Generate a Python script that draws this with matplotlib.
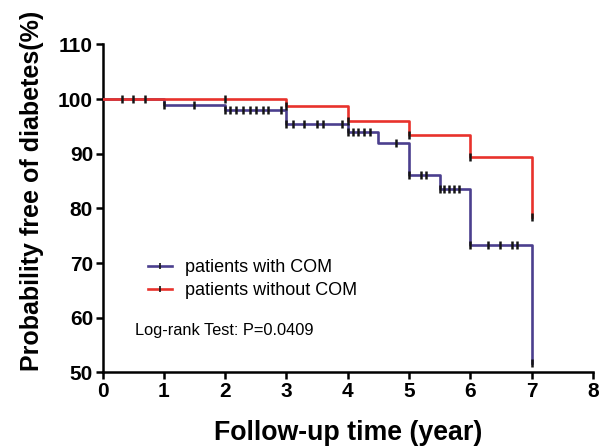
import numpy as np
import matplotlib
matplotlib.use("Agg")
import matplotlib.pyplot as plt
from matplotlib.lines import Line2D

# Kaplan-Meier steps (time in years, survival in %)
time_with = [0, 1, 2, 3, 4, 4.5, 5, 5.5, 6, 7]
surv_with = [100, 99.0, 98.0, 95.4, 93.9, 92.0, 86.1, 83.6, 73.3, 51.7]
time_without = [0, 3, 4, 5, 6, 7]
surv_without = [100, 98.8, 96.0, 93.5, 89.5, 78.5]

# censored observations (tick marks)
censor_with = [1.0, 1.5, 2.0, 2.08, 2.18, 2.29, 2.4, 2.51, 2.61, 2.7, 2.91, 3.0,
               3.1, 3.29, 3.5, 3.6, 3.9, 4.0, 4.08, 4.17, 4.26, 4.36, 4.79,
               5.0, 5.19, 5.28, 5.5, 5.57, 5.65, 5.73, 5.81, 6.0, 6.29, 6.49,
               6.68, 6.76, 7.0]
censor_without = [0.31, 0.49, 0.69, 2.0, 3.0, 4.0, 5.0, 6.0, 7.0]

labels = ["patients with COM", "patients without COM"]
pvalue_text = "Log-rank Test: P=0.0409"

blue = "#4b3f8e"
red = "#e8322c"
tick_col = "#151515"

plt.rcParams['font.family'] = ['Liberation Sans', 'DejaVu Sans']

fig = plt.figure(figsize=(6.07, 4.47), dpi=100)
ax = fig.add_axes([0.1689, 0.1667, 0.808, 0.7338])


def step_value(times, survs, t):
    i = np.searchsorted(times, t, side='right') - 1
    return survs[i]


ax.step(time_with, surv_with, where='post', color=blue, lw=1.9, zorder=3)
ax.step(time_without, surv_without, where='post', color=red, lw=1.9, zorder=4)

cw_y = [step_value(time_with, surv_with, t) for t in censor_with]
cwo_y = [step_value(time_without, surv_without, t) for t in censor_without]
ax.plot(censor_with, cw_y, ls='none', marker='|', ms=5.5, mew=1.8,
        color=tick_col, zorder=5)
ax.plot(censor_without, cwo_y, ls='none', marker='|', ms=5.5, mew=1.8,
        color=tick_col, zorder=5)

ax.set_xlim(0, 8)
ax.set_ylim(50, 110)
ax.set_xticks(range(0, 9))
ax.set_yticks(range(50, 111, 10))

for s in ['top', 'right']:
    ax.spines[s].set_visible(False)
for s in ['left', 'bottom']:
    ax.spines[s].set_linewidth(1.8)
ax.tick_params(axis='both', length=4.8, width=1.8, labelsize=15, pad=2)
for lab in ax.get_xticklabels() + ax.get_yticklabels():
    lab.set_fontweight('bold')

fig.text(32 / 607, 1 - 191 / 447, "Probability free of diabetes(%)",
         rotation=90, ha='center', va='center', fontsize=18,
         fontweight='bold')
fig.text(348 / 607, 1 - 433 / 447, "Follow-up time (year)",
         ha='center', va='center', fontsize=19.3, fontweight='bold')

handles = [
    Line2D([], [], color=blue, lw=1.9, marker='|', ms=4, mew=1.2,
           mec=tick_col),
    Line2D([], [], color=red, lw=1.9, marker='|', ms=4, mew=1.2,
           mec=tick_col),
]
ax.legend(handles, labels, loc='upper left',
          bbox_to_anchor=(148 / 607, 1 - 259 / 447),
          bbox_transform=fig.transFigure, frameon=False, fontsize=13,
          handlelength=1.35, handletextpad=0.72, labelspacing=0.35,
          borderpad=0, borderaxespad=0, numpoints=1)

fig.text(135 / 607, 1 - 331 / 447, pvalue_text, ha='left', va='center',
         fontsize=11.8)

fig.savefig("out.png", dpi=100)
